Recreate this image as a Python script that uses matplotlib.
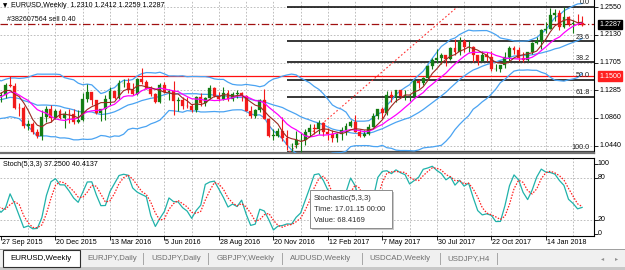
import numpy as np
import pandas as pd
import matplotlib
matplotlib.use("Agg")
import matplotlib.pyplot as plt
from matplotlib.transforms import blended_transform_factory as blend
from matplotlib.patches import Rectangle

plt.rcParams['font.family'] = ['Liberation Sans', 'DejaVu Sans']

# ---------------- data (EURUSD weekly, weeks starting 3 May 2015) ----------------
opens = [
    1.1200, 1.1200, 1.1447, 1.1014, 1.0986, 1.1115, 1.1260, 1.1350, 1.1166, 1.1107,
    1.1160, 1.0830, 1.0985, 1.0985, 1.0970, 1.1105, 1.1385, 1.1183, 1.1150, 1.1340,
    1.1295,
    1.1195, 1.1210, 1.1357, 1.1345, 1.1015, 1.1005, 1.0740, 1.0770, 1.0645, 1.0590,
    1.0880, 1.0990, 1.0865, 1.0965, 1.0860, 1.0920, 1.0915, 1.0795, 1.0830, 1.1155,
    1.1255, 1.1130, 1.0935, 1.1000, 1.1155, 1.1270, 1.1165, 1.1395, 1.1400, 1.1285,
    1.1225, 1.1455, 1.1405, 1.1305, 1.1225, 1.1110, 1.1365, 1.1250, 1.1275, 1.1115,
    1.1135, 1.1050, 1.1040, 1.0975, 1.1175, 1.1085, 1.1165, 1.1325, 1.1195, 1.1155,
    1.1235, 1.1155, 1.1225, 1.1240, 1.1200, 1.0970, 1.0885, 1.0985, 1.1140, 1.0850,
    1.0590, 1.0590, 1.0665, 1.0560, 1.0450, 1.0455, 1.0520, 1.0530, 1.0645, 1.0700,
    1.0695, 1.0785, 1.0640, 1.0615, 1.0560, 1.0620, 1.0675, 1.0735, 1.0800, 1.0650,
    1.0590, 1.0615, 1.0725, 1.0895, 1.0995, 1.0930, 1.1205, 1.1185, 1.1280, 1.1195,
    1.1195, 1.1195, 1.1425, 1.1400, 1.1470, 1.1660, 1.1750, 1.1775, 1.1820, 1.1760,
    1.1925, 1.1860, 1.2035, 1.1945, 1.1950, 1.1815, 1.1735, 1.1820, 1.1785, 1.1605,
    1.1610, 1.1665, 1.1790, 1.1930, 1.1895, 1.1770, 1.1745, 1.1860, 1.2005, 1.2030,
    1.2200, 1.2220, 1.2425, 1.2460, 1.2250, 1.2405, 1.2295, 1.2315, 1.2310,
]
highs = [
    1.1290, 1.1467, 1.1465, 1.1050, 1.1380, 1.1386, 1.1436, 1.1385, 1.1280, 1.1215,
    1.1200, 1.0990, 1.1128, 1.1020, 1.1215, 1.1390, 1.1713, 1.1330, 1.1360, 1.1460,
    1.1330,
    1.1260, 1.1387, 1.1495, 1.1390, 1.1095, 1.1040, 1.0830, 1.0800, 1.0690, 1.0980,
    1.1045, 1.1060, 1.0990, 1.0995, 1.0970, 1.0990, 1.0990, 1.0985, 1.1245, 1.1375,
    1.1260, 1.1140, 1.1000, 1.1215, 1.1340, 1.1275, 1.1440, 1.1455, 1.1465, 1.1400,
    1.1465, 1.1616, 1.1445, 1.1350, 1.1240, 1.1395, 1.1415, 1.1300, 1.1425, 1.1185,
    1.1185, 1.1185, 1.1075, 1.1200, 1.1235, 1.1175, 1.1365, 1.1340, 1.1255, 1.1330,
    1.1285, 1.1255, 1.1280, 1.1260, 1.1210, 1.1040, 1.0990, 1.1145, 1.1300, 1.0860,
    1.0690, 1.0710, 1.0875, 1.0670, 1.0485, 1.0655, 1.0625, 1.0685, 1.0775, 1.0775,
    1.0830, 1.0795, 1.0700, 1.0680, 1.0630, 1.0715, 1.0780, 1.0825, 1.0905, 1.0690,
    1.0680, 1.0775, 1.0935, 1.1000, 1.1025, 1.1265, 1.1270, 1.1285, 1.1295, 1.1295,
    1.1225, 1.1445, 1.1445, 1.1490, 1.1675, 1.1775, 1.1910, 1.1845, 1.1825, 1.1940,
    1.2070, 1.2090, 1.2060, 1.2035, 1.1960, 1.1820, 1.1880, 1.1860, 1.1880, 1.1690,
    1.1670, 1.1860, 1.1960, 1.1960, 1.1940, 1.1860, 1.1875, 1.2025, 1.2090, 1.2215,
    1.2325, 1.2535, 1.2520, 1.2510, 1.2555, 1.2410, 1.2355, 1.2445, 1.2412,
]
lows = [
    1.1000, 1.1150, 1.0985, 1.0819, 1.0888, 1.1090, 1.1170, 1.1130, 1.0955, 1.0915,
    1.0810, 1.0808, 1.0925, 1.0850, 1.0958, 1.1015, 1.1155, 1.1086, 1.1150, 1.1235,
    1.1085,
    1.1105, 1.1160, 1.1330, 1.1000, 1.0895, 1.0705, 1.0675, 1.0615, 1.0560, 1.0524,
    1.0795, 1.0805, 1.0850, 1.0850, 1.0710, 1.0780, 1.0775, 1.0780, 1.0810, 1.1110,
    1.1065, 1.0920, 1.0810, 1.0825, 1.1055, 1.1145, 1.1145, 1.1340, 1.1235, 1.1215,
    1.1215, 1.1385, 1.1300, 1.1195, 1.1095, 1.1095, 1.1245, 1.1130, 1.0910, 1.0960,
    1.1000, 1.1015, 1.0950, 1.0955, 1.1045, 1.1045, 1.1150, 1.1175, 1.1125, 1.1135,
    1.1120, 1.1125, 1.1165, 1.1125, 1.0965, 1.0860, 1.0860, 1.0950, 1.0845, 1.0565,
    1.0520, 1.0570, 1.0505, 1.0365, 1.0350, 1.0400, 1.0340, 1.0450, 1.0580, 1.0620,
    1.0620, 1.0590, 1.0520, 1.0495, 1.0495, 1.0525, 1.0600, 1.0725, 1.0645, 1.0570,
    1.0570, 1.0605, 1.0725, 1.0850, 1.0840, 1.0910, 1.1110, 1.1110, 1.1190, 1.1130,
    1.1120, 1.1170, 1.1315, 1.1370, 1.1435, 1.1610, 1.1705, 1.1690, 1.1660, 1.1740,
    1.1825, 1.1825, 1.1865, 1.1860, 1.1715, 1.1670, 1.1730, 1.1730, 1.1575, 1.1575,
    1.1555, 1.1630, 1.1715, 1.1830, 1.1730, 1.1715, 1.1730, 1.1840, 1.1995, 1.1915,
    1.2165, 1.2215, 1.2335, 1.2205, 1.2235, 1.2260, 1.2155, 1.2275, 1.2259,
]
closes = [
    1.1200, 1.1447, 1.1014, 1.0986, 1.1115, 1.1260, 1.1350, 1.1166, 1.1107, 1.1160,
    1.0830, 1.0985, 1.0985, 1.0970, 1.1105, 1.1385, 1.1183, 1.1150, 1.1340, 1.1295,
    1.1195,
    1.1210, 1.1357, 1.1345, 1.1015, 1.1005, 1.0740, 1.0770, 1.0645, 1.0590, 1.0880,
    1.0990, 1.0865, 1.0965, 1.0860, 1.0920, 1.0915, 1.0795, 1.0830, 1.1155, 1.1255,
    1.1130, 1.0935, 1.1000, 1.1155, 1.1270, 1.1165, 1.1395, 1.1400, 1.1285, 1.1225,
    1.1455, 1.1405, 1.1305, 1.1225, 1.1110, 1.1365, 1.1250, 1.1275, 1.1115, 1.1135,
    1.1050, 1.1040, 1.0975, 1.1175, 1.1085, 1.1165, 1.1325, 1.1195, 1.1155, 1.1235,
    1.1155, 1.1225, 1.1240, 1.1200, 1.0970, 1.0885, 1.0985, 1.1140, 1.0850, 1.0590,
    1.0590, 1.0665, 1.0560, 1.0450, 1.0455, 1.0520, 1.0530, 1.0645, 1.0700, 1.0695,
    1.0785, 1.0640, 1.0615, 1.0560, 1.0620, 1.0675, 1.0735, 1.0800, 1.0650, 1.0590,
    1.0615, 1.0725, 1.0895, 1.0995, 1.0930, 1.1205, 1.1185, 1.1280, 1.1195, 1.1195,
    1.1195, 1.1425, 1.1400, 1.1470, 1.1660, 1.1750, 1.1775, 1.1820, 1.1760, 1.1925,
    1.1860, 1.2035, 1.1945, 1.1950, 1.1815, 1.1735, 1.1820, 1.1785, 1.1605, 1.1610,
    1.1665, 1.1790, 1.1930, 1.1895, 1.1770, 1.1745, 1.1860, 1.2005, 1.2030, 1.2200,
    1.2220, 1.2425, 1.2460, 1.2250, 1.2405, 1.2295, 1.2315, 1.2310, 1.2287,
]
first_visible = "2015-09-27"
date_labels = ["27 Sep 2015", "20 Dec 2015", "13 Mar 2016", "5 Jun 2016", "28 Aug 2016",
               "20 Nov 2016", "12 Feb 2017", "7 May 2017", "30 Jul 2017", "22 Oct 2017",
               "14 Jan 2018"]
price_labels = [1.2550, 1.2130, 1.1705, 1.1285, 1.0860, 1.0440]
fib_high, fib_low = 1.2555, 1.0340
fib_high_date, fib_low_date = "2017-08-27", "2016-12-11"
fib_ratios = [0.0, 23.6, 38.2, 50.0, 61.8, 100.0]
fib_start_date = "2016-12-11"
level_red = 1.1500
order_price = 1.2290
bid_price = 1.2287
stoch_levels = [80, 20]
stoch_labels = [100, 80, 20, 0]
title_txt = "EURUSD,Weekly  1.2310 1.2412 1.2259 1.2287"
order_txt = "#382607564 sell 0.40"
stoch_txt = "Stoch(5,3,3) 37.2500 40.4137"
tooltip_lines = ["Stochastic(5,3,3)", "Time: 17.01.15 00:00", "Value: 68.4169"]
tabs = ["EURUSD,Weekly", "EURJPY,Daily", "USDJPY,Daily", "GBPJPY,Weekly",
        "AUDUSD,Weekly", "USDCAD,Weekly", "USDJPY,H4"]

# ---------------- derived series ----------------
o = np.array(opens); h = np.array(highs); l = np.array(lows); c = np.array(closes)
weeks = pd.date_range("2015-05-03", periods=len(c), freq="W-SUN")
i0 = int(np.where(weeks == pd.Timestamp(first_visible))[0][0])
x = np.arange(len(c)) - i0
def widx(s):
    return int(np.where(weeks == pd.Timestamp(s))[0][0]) - i0

cs = pd.Series(c)
bb_mid = cs.rolling(20).mean()
bb_sd = cs.rolling(20).std(ddof=0)
bb_up = bb_mid + 2 * bb_sd
bb_lo = bb_mid - 2 * bb_sd
ma5 = cs.rolling(5).mean()
ma10 = cs.rolling(10).mean()
hh = pd.Series(h).rolling(5).max()
ll = pd.Series(l).rolling(5).min()
k = (cs - ll).rolling(3).sum() / (hh - ll).rolling(3).sum() * 100
d = k.rolling(3).mean()

# ---------------- figure layout (pixel based) ----------------
W, H = 625, 270
fig = plt.figure(figsize=(W / 100, H / 100), dpi=100)
fig.patch.set_facecolor("white")

def fx(px): return px / W
def fy(py): return 1 - py / H

MAIN_TOP, MAIN_BOT = 0, 153
ST_TOP, ST_BOT = 158, 236
RIGHT = 594
axm = fig.add_axes([0, fy(MAIN_BOT), fx(RIGHT), (MAIN_BOT - MAIN_TOP) / H])
axs = fig.add_axes([0, fy(ST_BOT), fx(RIGHT), (ST_BOT - ST_TOP) / H])

PX_PER_BAR = 4.54
xl = (-1 / PX_PER_BAR, (RIGHT - 1) / PX_PER_BAR)
PPU = 655.0  # pixels per price unit
yref_px, yref_p = 7.3, 1.2550
axm.set_xlim(*xl)
axm.set_ylim(yref_p - (MAIN_BOT - yref_px) / PPU, yref_p + yref_px / PPU)
axs.set_xlim(*xl)
SPU = 0.70
axs.set_ylim(100 - (ST_BOT - 163.5) / SPU, 100 + (163.5 - ST_TOP) / SPU)

GRID = dict(color="#b4b4b4", lw=0.6, linestyle=(0, (2, 2)), zorder=0)
grid_x = np.arange(6, xl[1], 6)
for ax in (axm, axs):
    for gx in grid_x:
        ax.axvline(gx, **GRID)
for p in price_labels:
    axm.axhline(p, **GRID)
for lv in stoch_levels:
    axs.axhline(lv, **GRID)

for ax in (axm, axs):
    ax.set_facecolor("white")
    ax.spines["left"].set_visible(False)
    for s in ("right", "bottom", "top"):
        ax.spines[s].set_color("black")
        ax.spines[s].set_linewidth(0.8)
    ax.tick_params(left=False, labelleft=False, labelbottom=False, bottom=False)
axm.spines["top"].set_visible(False)
axm.spines["bottom"].set_color("#707070")
axm.spines["bottom"].set_linewidth(1.6)

# price ticks on the right
axm.yaxis.tick_right()
axm.set_yticks(price_labels)
axm.tick_params(axis="y", right=True, length=3, width=0.6, labelright=False, direction="out")
axs.yaxis.tick_right()
axs.set_yticks(stoch_labels)
axs.tick_params(axis="y", right=True, length=3, width=0.6, labelright=False, direction="out")
lab_idx = [widx(pd.Timestamp(s).strftime("%Y-%m-%d")) for s in date_labels]
axs.set_xticks(lab_idx)
axs.tick_params(axis="x", bottom=True, length=3, width=0.6, labelbottom=False, direction="out")

# horizontal reference lines
axm.axhline(level_red, color="#ff1010", lw=0.9, zorder=2)
axm.axhline(order_price, color="#a01010", lw=0.9, linestyle=(0, (6, 2, 1, 2)), zorder=2)

# Fibonacci
fs = widx(fib_start_date)
rng = fib_high - fib_low
for r in fib_ratios:
    lv = fib_high - rng * r / 100
    axm.hlines(lv, fs, xl[1], color="black" if r < 100 else "#404040",
               lw=1.1 if r < 100 else 1.6, zorder=2)
    axm.text(590 / RIGHT, lv + 0.6 / PPU, f"{r:.1f}", transform=blend(axm.transAxes, axm.transData),
             ha="right", va="bottom", fontsize=5.2, color="#202020", zorder=6)
axm.plot([widx(fib_low_date) + 0.5, widx(fib_high_date) + 0.5], [fib_low, fib_high],
         color="#ff3030", lw=0.8, linestyle=(0, (1.5, 2)), zorder=2)

# Bollinger bands & MAs
BLUE = "#4aa3f2"
for s in (bb_up, bb_mid, bb_lo):
    axm.plot(x, s, color=BLUE, lw=0.9, zorder=3)
axm.plot(x, ma10, color="#ff00ff", lw=0.9, zorder=5)
axm.plot(x, ma5, color="#9a2a22", lw=0.8, zorder=5)

# candles
GREEN, RED = "#137c13", "#f21a1a"
up = c >= o
cols = np.where(up, GREEN, RED)
body_lo = np.minimum(o, c)
body_h = np.maximum(np.abs(c - o), 0.0004)
axm.vlines(x, l, h, colors=cols, lw=0.8, zorder=4)
axm.bar(x, body_h, bottom=body_lo, width=0.64, color=cols, edgecolor=cols, lw=0.2, zorder=4)

# Stochastic
axs.plot(x, k, color="#20b2aa", lw=0.9, zorder=3)
axs.plot(x, d, color="#ff2020", lw=0.9, linestyle=(0, (1.2, 1.2)), zorder=3)

# ---------------- texts ----------------
FS = 5.15
bt = blend(axm.transAxes, axm.transData)
for p in price_labels:
    axm.text(599 / RIGHT, p, f"{p:.4f}", transform=bt, ha="left", va="center",
             fontsize=FS, color="black", clip_on=False)
axm.text(599 / RIGHT, bid_price, f"{bid_price:.4f}", transform=bt, ha="left", va="center",
         fontsize=FS, color="white", clip_on=False,
         bbox=dict(boxstyle="square,pad=0.2", fc="black", ec="black"))
axm.text(599 / RIGHT, level_red, f"{level_red:.4f}", transform=bt, ha="left", va="center",
         fontsize=FS, color="white", clip_on=False,
         bbox=dict(boxstyle="square,pad=0.2", fc="#ff2020", ec="#ff2020"))
bs = blend(axs.transAxes, axs.transData)
for v in stoch_labels:
    axs.text(598 / RIGHT, v, f"{v}", transform=bs, ha="left", va="center",
             fontsize=FS, color="black", clip_on=False)

for s, xi in zip(date_labels, lab_idx):
    fig.text(fx(1 + PX_PER_BAR * xi + 1), fy(243), s, ha="left", va="center", fontsize=FS)

fig.text(fx(3), fy(5.5), "\u25bc", fontsize=4.0, ha="left", va="center",
         family=["DejaVu Sans"])
fig.text(fx(11), fy(5.5), title_txt, fontsize=FS, ha="left", va="center")
fig.text(fx(7), fy(19.5), order_txt, fontsize=FS, ha="left", va="center", color="#101010")
fig.text(fx(3), fy(164), stoch_txt, fontsize=FS, ha="left", va="center")

# tooltip
fig.add_artist(Rectangle((fx(312), fy(230)), 82 / W, 38 / H, transform=fig.transFigure,
                         fc="#c8c8c8", ec="none", zorder=9))
fig.add_artist(Rectangle((fx(310), fy(228)), 82 / W, 38 / H, transform=fig.transFigure,
                         fc="white", ec="#8c8c8c", lw=0.7, zorder=10))
for j, t in enumerate(tooltip_lines):
    fig.text(fx(314), fy(198 + 11.5 * j), t, fontsize=5.5, ha="left", va="center",
             color="#303030", zorder=11)

# tab bar
fig.add_artist(Rectangle((0, fy(267)), 1, 18 / H, transform=fig.transFigure,
                         fc="#f0f0f0", ec="none", zorder=1))
fig.add_artist(Rectangle((0, fy(249.5)), 1, 0.6 / H, transform=fig.transFigure,
                         fc="#a0a0a0", ec="none", zorder=2))
fig.add_artist(Rectangle((0, 0), 1, 3 / H, transform=fig.transFigure,
                         fc="#c8c8c8", ec="none", zorder=2))
fig.add_artist(Rectangle((fx(2.5), fy(266.5)), 77 / W, 17 / H, transform=fig.transFigure,
                         fc="white", ec="#303030", lw=0.8, zorder=3))
tab_x = [10, 87, 151, 217, 290, 369, 447]
sep_x = [143, 208, 282, 362, 440, 497]
for t, tx in zip(tabs, tab_x):
    fig.text(fx(tx), fy(259), t, fontsize=5.7, ha="left", va="center",
             color="black" if tx == tab_x[0] else "#707070", zorder=4)
for sx in sep_x:
    fig.add_artist(Rectangle((fx(sx), fy(265)), 0.8 / W, 12 / H, transform=fig.transFigure,
                             fc="#a8a8a8", ec="none", zorder=4))
fig.text(fx(603), fy(259), "\u25c2", fontsize=4.5, color="#909090", ha="center", va="center",
         family=["DejaVu Sans"])
fig.text(fx(617), fy(259), "\u25b8", fontsize=4.5, color="#909090", ha="center", va="center",
         family=["DejaVu Sans"])

fig.savefig("out.png", dpi=100, facecolor="white")
